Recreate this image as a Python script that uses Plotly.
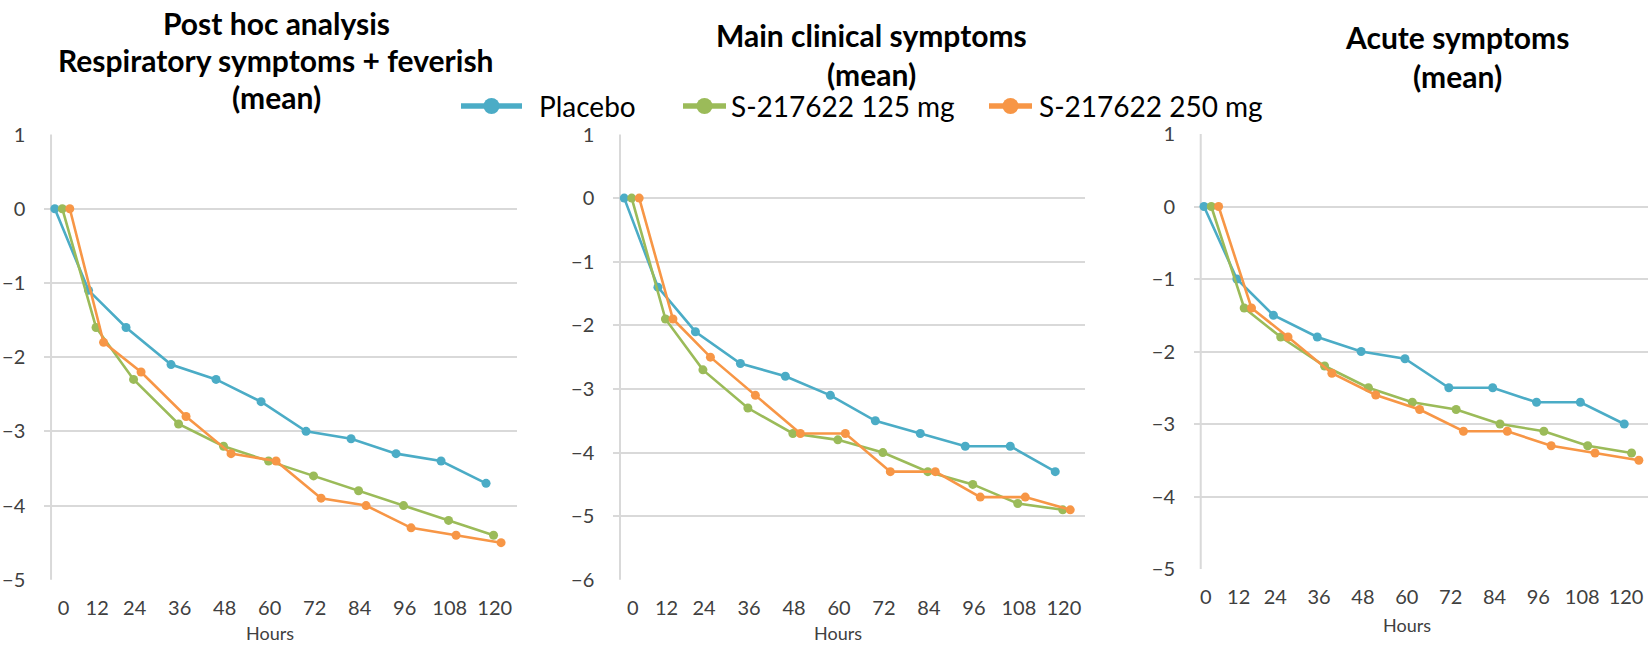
import plotly.graph_objects as go

# ---------------- data ----------------
hour_labels = ["0", "12", "24", "36", "48", "60", "72", "84", "96", "108", "120"]
time_x = [0, 9, 19, 31, 43, 55, 67, 79, 91, 103, 115]
series_names = ["Placebo", "S-217622 125 mg", "S-217622 250 mg"]

resp_placebo = [0, -1.1, -1.6, -2.1, -2.3, -2.6, -3.0, -3.1, -3.3, -3.4, -3.7]
resp_125mg = [0, -1.6, -2.3, -2.9, -3.2, -3.4, -3.6, -3.8, -4.0, -4.2, -4.4]
resp_250mg = [0, -1.8, -2.2, -2.8, -3.3, -3.4, -3.9, -4.0, -4.3, -4.4, -4.5]

main_placebo = [0, -1.4, -2.1, -2.6, -2.8, -3.1, -3.5, -3.7, -3.9, -3.9, -4.3]
main_125mg = [0, -1.9, -2.7, -3.3, -3.7, -3.8, -4.0, -4.3, -4.5, -4.8, -4.9]
main_250mg = [0, -1.9, -2.5, -3.1, -3.7, -3.7, -4.3, -4.3, -4.7, -4.7, -4.9]

acute_placebo = [0, -1.0, -1.5, -1.8, -2.0, -2.1, -2.5, -2.5, -2.7, -2.7, -3.0]
acute_125mg = [0, -1.4, -1.8, -2.2, -2.5, -2.7, -2.8, -3.0, -3.1, -3.3, -3.4]
acute_250mg = [0, -1.4, -1.8, -2.3, -2.6, -2.8, -3.1, -3.1, -3.3, -3.4, -3.5]

panel_titles = [
    ["Post hoc analysis", "Respiratory symptoms + feverish", "(mean)"],
    ["Main clinical symptoms", "(mean)"],
    ["Acute symptoms", "(mean)"],
]
y_ranges = [(-5, 1), (-6, 1), (-5, 1)]
x_title = "Hours"

# ---------------- styling / layout ----------------
W, H = 1648, 646
colors = ["#4BACC6", "#9BBB59", "#F79646"]
series_shift = [-2, 0, 2]          # small horizontal jitter between series
FONT = "Lato"
TICK_COLOR = "#404040"
GRID = "#D9D9D9"


def px(x):
    return x / W


def py(y):
    return 1 - y / H


panels = [
    dict(xdom=(44.3, 516.7), ydom=(134.5, 579.8), xr=(-4.8, 121.17), axis_x=-3.0,
         tick_shift=0.3, data=[resp_placebo, resp_125mg, resp_250mg],
         title_x=276, title_y=[23, 60, 97], hours=(270, 633)),
    dict(xdom=(613.3, 1085), ydom=(134.5, 579.8), xr=(-4.91, 120.94), axis_x=-3.12,
         tick_shift=0.3, data=[main_placebo, main_125mg, main_250mg],
         title_x=871, title_y=[35, 74], hours=(838, 633)),
    dict(xdom=(1194, 1648), ydom=(134, 569), xr=(-4.73, 119.5), axis_x=-2.89,
         tick_shift=-1.5, data=[acute_placebo, acute_125mg, acute_250mg],
         title_x=1457, title_y=[37, 76], hours=(1407, 625)),
]

fig = go.Figure()
shapes = []
annotations = []

for i, p in enumerate(panels):
    n = "" if i == 0 else str(i + 1)
    xa, ya = "x" + n, "y" + n
    for vals, name, col, sh in zip(p["data"], series_names, colors, series_shift):
        fig.add_trace(go.Scatter(
            x=[t + sh for t in time_x], y=vals, name=name, mode="lines+markers",
            line=dict(color=col, width=2.6), marker=dict(color=col, size=9),
            xaxis=xa, yaxis=ya, showlegend=False, cliponaxis=False,
        ))
    fig.update_layout(**{
        "xaxis" + n: dict(
            domain=[px(p["xdom"][0]), px(p["xdom"][1])], range=list(p["xr"]),
            anchor=ya, showgrid=False, zeroline=False, showline=False,
            tickmode="array", tickvals=[t + p["tick_shift"] for t in time_x],
            ticktext=hour_labels, ticks="outside", ticklen=10,
            tickcolor="rgba(0,0,0,0)", tickfont=dict(family=FONT, size=20, color=TICK_COLOR),
            automargin=False, fixedrange=True,
        ),
        "yaxis" + n: dict(
            domain=[py(p["ydom"][1]), py(p["ydom"][0])], range=list(y_ranges[i]),
            anchor=xa, dtick=1, showgrid=True, gridcolor=GRID, gridwidth=1.6,
            zeroline=False, showline=False, ticks="outside", ticklen=14,
            tickcolor="rgba(0,0,0,0)", tickfont=dict(family=FONT, size=20, color=TICK_COLOR),
            automargin=False, fixedrange=True,
        ),
    })
    # vertical axis line
    shapes.append(dict(type="line", xref=xa, yref=ya + " domain", x0=p["axis_x"], x1=p["axis_x"],
                       y0=0, y1=1, line=dict(color=GRID, width=2), layer="below"))
    # titles
    for line, yy in zip(panel_titles[i], p["title_y"]):
        annotations.append(dict(text="<b>" + line + "</b>", xref="paper", yref="paper",
                                x=px(p["title_x"]), y=py(yy), xanchor="center", yanchor="middle",
                                showarrow=False, font=dict(family=FONT, size=30, color="#000000")))
    annotations.append(dict(text=x_title, xref="paper", yref="paper",
                            x=px(p["hours"][0]), y=py(p["hours"][1]), xanchor="center",
                            yanchor="middle", showarrow=False,
                            font=dict(family=FONT, size=18, color=TICK_COLOR)))

# manual legend
legend_items = [
    (461, 522, 537),
    (683, 726, 729),
    (989, 1032, 1037),
]
LEG_Y = 106
for (x0, x1, tx), name, col in zip(legend_items, series_names, colors):
    shapes.append(dict(type="line", xref="paper", yref="paper", x0=px(x0), x1=px(x1),
                       y0=py(LEG_Y), y1=py(LEG_Y), line=dict(color=col, width=5.5)))
    cx, r = (x0 + x1) / 2, 8
    shapes.append(dict(type="circle", xref="paper", yref="paper", x0=px(cx - r), x1=px(cx + r),
                       y0=py(LEG_Y + r), y1=py(LEG_Y - r), fillcolor=col, line=dict(color=col, width=0)))
    annotations.append(dict(text=name, xref="paper", yref="paper", x=px(tx), y=py(LEG_Y),
                            xanchor="left", yanchor="middle", showarrow=False,
                            font=dict(family=FONT, size=28, color="#000000")))

fig.update_layout(
    width=W, height=H, margin=dict(l=0, r=0, t=0, b=0),
    paper_bgcolor="white", plot_bgcolor="white",
    shapes=shapes, annotations=annotations, showlegend=False,
    font=dict(family=FONT),
)

fig.write_html(
    "out.html",
    config={"displayModeBar": False},
    post_script="document.body.style.margin='0';document.body.style.overflow='hidden';",
)
